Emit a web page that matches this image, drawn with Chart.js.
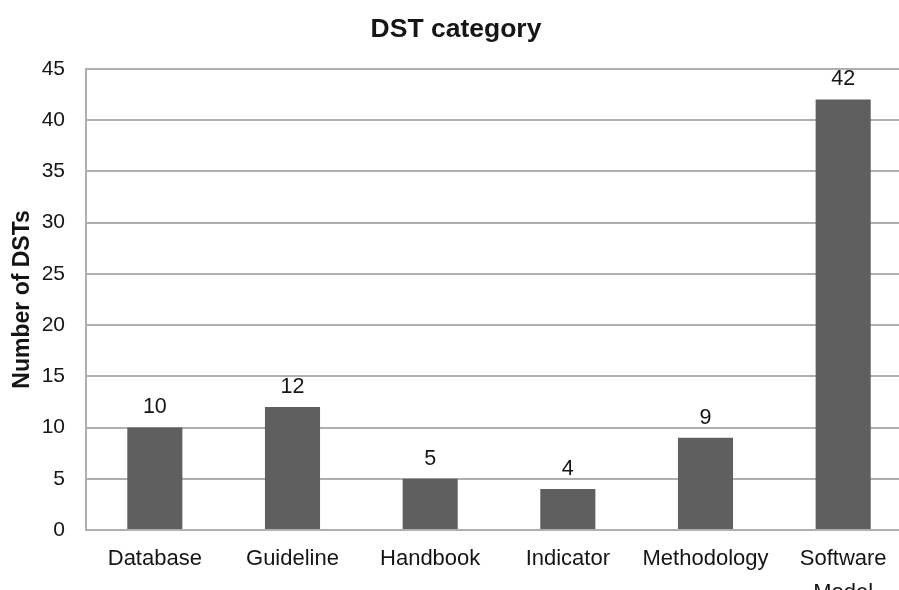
<!DOCTYPE html>
<html>
<head>
<meta charset="utf-8">
<title>DST category</title>
<script src="https://cdn.jsdelivr.net/npm/chart.js@4/dist/chart.umd.min.js"></script>
<style>
    html, body { margin: 0; padding: 0; background: #fff; overflow: hidden; }
    canvas { display: block; }
</style>
</head>
<body>
<canvas id="dstChart" width="912" height="590"></canvas>
<script>
/* Data */
const categories = ['Database', 'Guideline', 'Handbook', 'Indicator', 'Methodology', ['Software', 'Model']];
const dstCounts = [10, 12, 5, 4, 9, 42];
const yTicks = [0, 5, 10, 15, 20, 25, 30, 35, 40, 45];

const FONT = "'Liberation Sans', Arial, Helvetica, sans-serif";
const TEXT = '#151515';
const GRID = '#afafaf';

// Draws the count above each bar, from the bar element's own position
const barValueLabels = {
    id: 'barValueLabels',
    afterDatasetsDraw(chart) {
        const ctx = chart.ctx;
        const meta = chart.getDatasetMeta(0);
        ctx.save();
        ctx.font = '21.5px ' + FONT;
        ctx.fillStyle = TEXT;
        ctx.textAlign = 'center';
        ctx.textBaseline = 'middle';
        meta.data.forEach((bar, i) => {
            ctx.fillText(String(dstCounts[i]), bar.x, bar.y - 20);
        });
        ctx.restore();
    }
};

const ctx = document.getElementById('dstChart').getContext('2d');

new Chart(ctx, {
    type: 'bar',
    data: {
        labels: categories,
        datasets: [{
            label: 'Number of DSTs',
            data: dstCounts,
            backgroundColor: '#5f5f5f',
            borderWidth: 0,
            barPercentage: 1,
            categoryPercentage: 0.4
        }]
    },
    options: {
        responsive: false,
        animation: false,
        layout: { padding: 0 },
        plugins: {
            legend: { display: false },
            tooltip: { enabled: false },
            title: {
                display: true,
                text: 'DST category',
                color: TEXT,
                font: { family: FONT, size: 26.5, weight: 'bold', lineHeight: 1.2 },
                padding: { top: 14, bottom: 23 }
            }
        },
        scales: {
            x: {
                grid: { display: false, drawTicks: false },
                border: { display: true, color: GRID, width: 2 },
                ticks: {
                    color: TEXT,
                    padding: 12,
                    maxRotation: 0,
                    autoSkip: false,
                    font: { family: FONT, size: 22, lineHeight: 1.55 }
                },
                afterFit(scale) { scale.height = 60; }
            },
            y: {
                min: 0,
                max: 45,
                afterBuildTicks(scale) {
                    scale.ticks = yTicks.map(v => ({ value: v }));
                },
                grid: { color: GRID, lineWidth: 2, drawTicks: false },
                border: { display: true, color: GRID, width: 2 },
                ticks: {
                    color: TEXT,
                    padding: 21,
                    font: { family: FONT, size: 21 }
                },
                title: {
                    display: true,
                    text: 'Number of DSTs',
                    color: TEXT,
                    font: { family: FONT, size: 23, weight: 'bold', lineHeight: 1.2 },
                    padding: { top: 9, bottom: 0 }
                },
                afterFit(scale) { scale.width = 86; }
            }
        }
    },
    plugins: [barValueLabels]
});
</script>
</body>
</html>
